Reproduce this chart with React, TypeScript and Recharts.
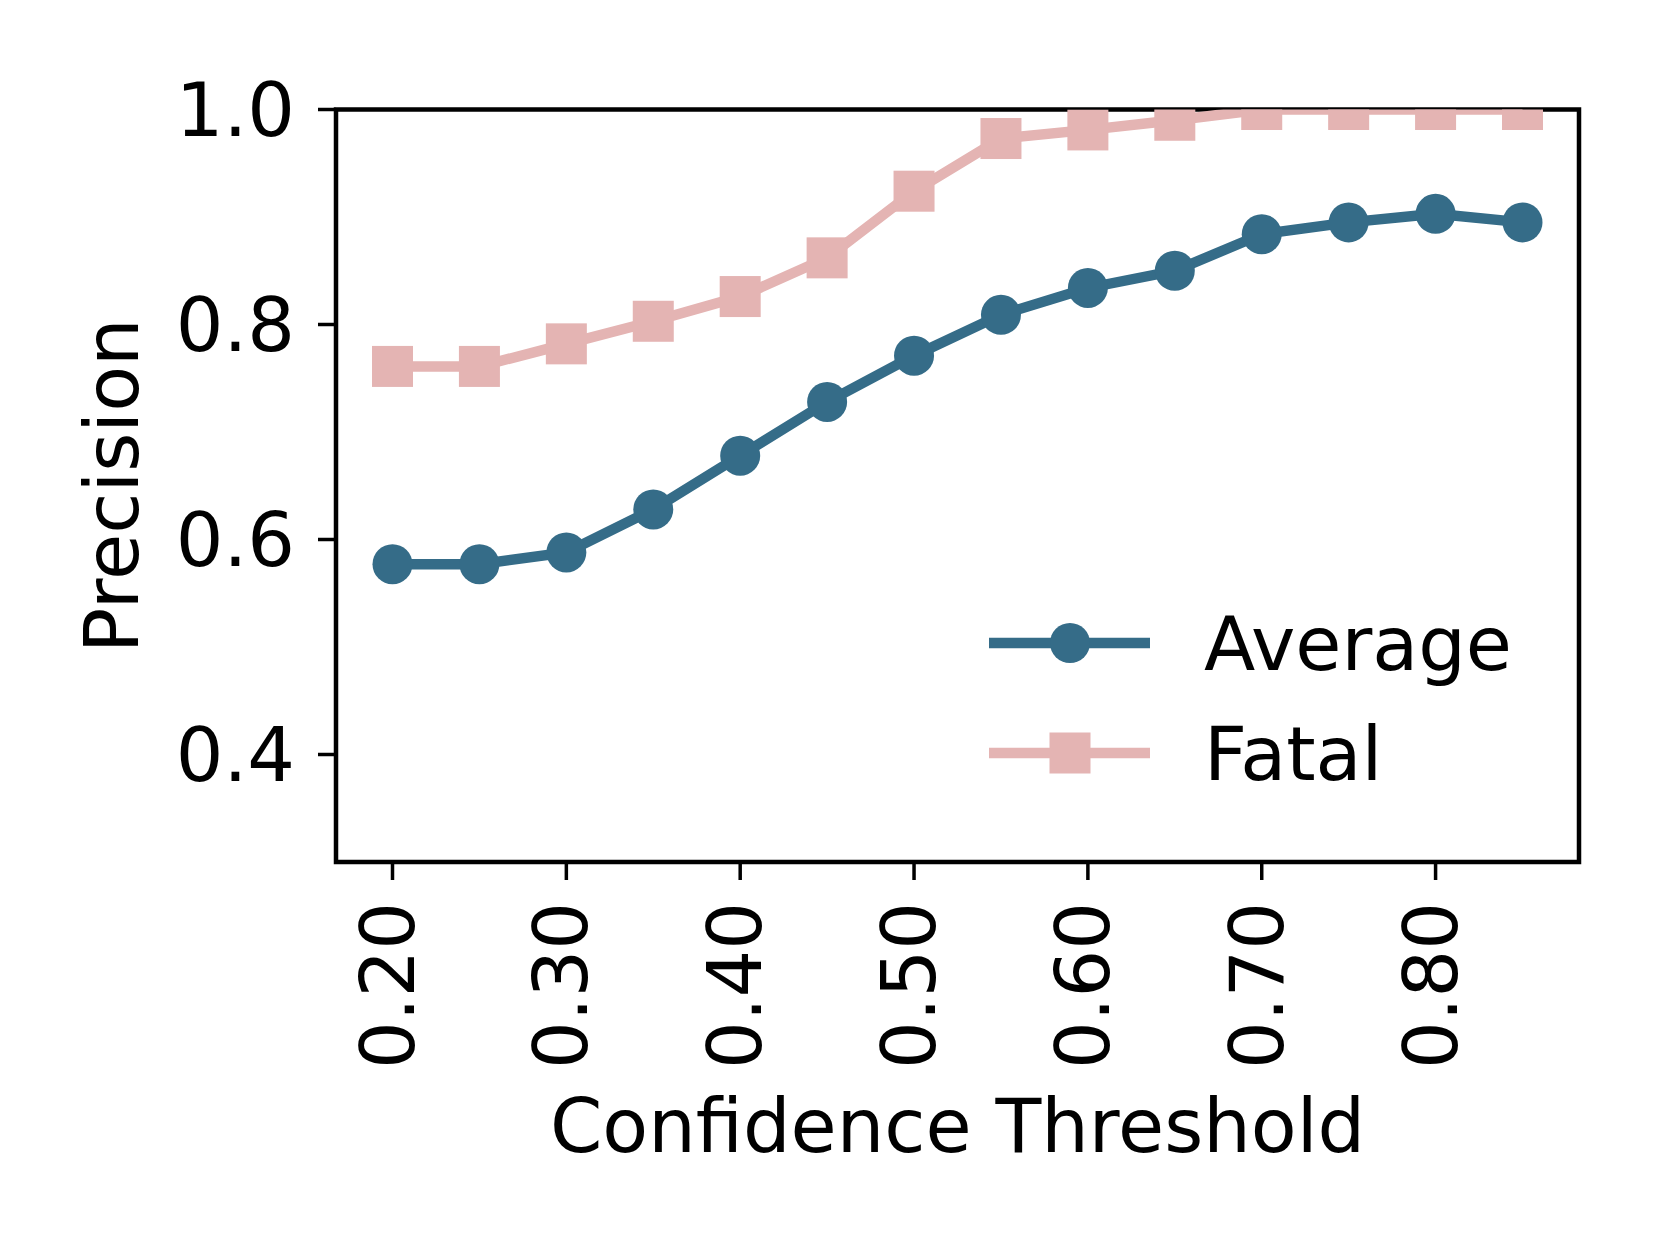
import { LineChart, Line, XAxis, YAxis, ReferenceArea, Legend } from 'recharts';

const thresholds = [0.2, 0.25, 0.3, 0.35, 0.4, 0.45, 0.5, 0.55, 0.6, 0.65, 0.7, 0.75, 0.8, 0.85];
const averagePrecision = [0.577, 0.577, 0.588, 0.628, 0.678, 0.728, 0.771, 0.809, 0.834, 0.85, 0.884, 0.895, 0.903, 0.895];
const fatalPrecision = [0.761, 0.761, 0.782, 0.803, 0.826, 0.862, 0.924, 0.973, 0.981, 0.99, 1.0, 1.0, 1.0, 1.0];

const xTicks = [0.2, 0.3, 0.4, 0.5, 0.6, 0.7, 0.8];
const yTicks = [0.4, 0.6, 0.8, 1.0];
const xDomain = [0.1675, 0.8825];
const yDomain = [0.3, 1.0];

const AVG_COLOR = '#356C88';
const FATAL_COLOR = '#E4B4B3';
const FONT = '"DejaVu Sans", sans-serif';
const FONT_SIZE = 75;

const data = thresholds.map((t, i) => ({
  threshold: t,
  average: averagePrecision[i],
  fatal: fatalPrecision[i],
}));

const XTick = ({ x, y, payload }: any) => (
  <text
    x={x}
    y={y}
    transform={`rotate(-90 ${x} ${y})`}
    textAnchor="end"
    dy="0.28em"
    fontSize={FONT_SIZE}
    fontFamily={FONT}
    fill="#000"
  >
    {Number(payload.value).toFixed(2)}
  </text>
);

const XLabel = ({ viewBox }: any) => (
  <text
    x={viewBox.x + viewBox.width / 2}
    y={viewBox.y + 290}
    textAnchor="middle"
    fontSize={FONT_SIZE}
    fontFamily={FONT}
    fill="#000"
  >
    Confidence Threshold
  </text>
);

const YLabel = ({ viewBox }: any) => {
  const cx = viewBox.x + 14.5;
  const cy = viewBox.y + viewBox.height / 2;
  return (
    <text
      x={cx}
      y={cy}
      transform={`rotate(-90 ${cx} ${cy})`}
      textAnchor="middle"
      dy="0.3645em"
      fontSize={FONT_SIZE}
      fontFamily={FONT}
      fill="#000"
    >
      Precision
    </text>
  );
};

const SquareDot = ({ cx, cy, index }: any) => (
  <rect key={`sq-${index}`} x={cx - 20.5} y={cy - 20.5} width={41} height={41} fill={FATAL_COLOR} />
);

const LegendContent = ({ payload }: any) => (
  <svg width={520} height={230} style={{ overflow: 'visible' }}>
    {(payload || []).map((entry: any, i: number) => {
      const ly = 53 + i * 110;
      const isFatal = entry.dataKey === 'fatal';
      return (
        <g key={entry.value}>
          <line x1={29} x2={190} y1={ly} y2={ly} stroke={entry.color} strokeWidth={10.4} />
          {isFatal ? (
            <rect x={110 - 20.5} y={ly - 20.5} width={41} height={41} fill={entry.color} />
          ) : (
            <circle cx={110} cy={ly} r={20} fill={entry.color} />
          )}
          <text x={244} y={ly} dy="0.3645em" fontSize={FONT_SIZE} fontFamily={FONT} fill="#000">
            {entry.value}
          </text>
        </g>
      );
    })}
  </svg>
);

export default function App() {
  return (
    <div style={{ position: 'absolute', left: 0, top: 0, background: '#fff' }}>
      <LineChart
        width={1661}
        height={1246}
        data={data}
        margin={{ top: 109.5, right: 82, left: 96, bottom: 84 }}
      >
        <XAxis
          dataKey="threshold"
          type="number"
          domain={xDomain}
          ticks={xTicks}
          allowDataOverflow
          height={300}
          axisLine={false}
          tickSize={18}
          tickMargin={22}
          tickLine={{ stroke: '#000', strokeWidth: 3.5 }}
          tick={<XTick />}
          interval={0}
          label={{ content: <XLabel /> }}
        />
        <YAxis
          type="number"
          domain={yDomain}
          ticks={yTicks}
          allowDataOverflow
          width={240}
          axisLine={false}
          tickSize={18}
          tickMargin={23}
          tickLine={{ stroke: '#000', strokeWidth: 3.5 }}
          tick={{ fill: '#000', fontSize: FONT_SIZE, fontFamily: FONT }}
          tickFormatter={(v: number) => v.toFixed(1)}
          interval={0}
          label={{ content: <YLabel /> }}
        />
        <Line
          dataKey="average"
          name="Average"
          type="linear"
          stroke={AVG_COLOR}
          strokeWidth={10.4}
          dot={{ r: 20, fill: AVG_COLOR, stroke: 'none', strokeWidth: 0 }}
          activeDot={false}
          isAnimationActive={false}
        />
        <Line
          dataKey="fatal"
          name="Fatal"
          type="linear"
          stroke={FATAL_COLOR}
          strokeWidth={10.4}
          dot={<SquareDot />}
          activeDot={false}
          isAnimationActive={false}
        />
        <ReferenceArea
          x1={xDomain[0]}
          x2={xDomain[1]}
          y1={yDomain[0]}
          y2={yDomain[1]}
          fill="none"
          stroke="#000"
          strokeWidth={4.5}
          ifOverflow="visible"
        />
        <Legend
          layout="horizontal"
          verticalAlign="middle"
          align="center"
          content={<LegendContent />}
          wrapperStyle={{ position: 'absolute', left: 960, top: 590, width: 520, height: 230 }}
        />
      </LineChart>
    </div>
  );
}
